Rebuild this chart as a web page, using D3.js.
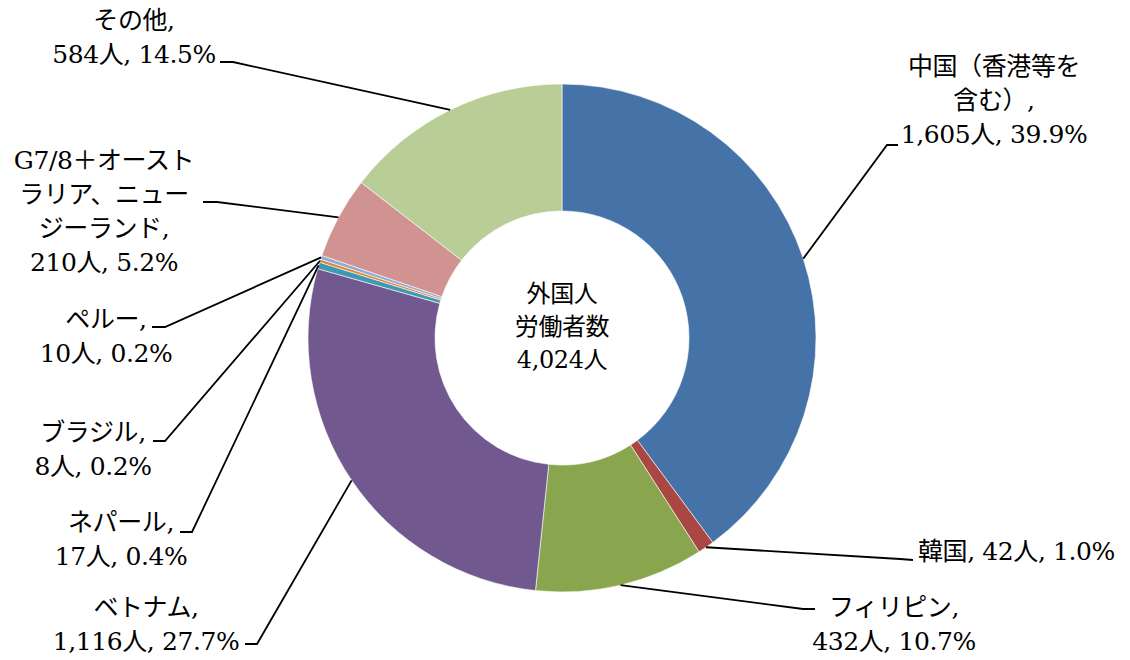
<!DOCTYPE html>
<html><head><meta charset="utf-8">
<script src="https://cdn.jsdelivr.net/npm/d3@7/dist/d3.min.js"></script>
<style>
html,body{margin:0;padding:0;background:#fff;}
text{font-family:"DejaVu Serif","Noto Sans CJK JP",serif;fill:#000;letter-spacing:-0.4px;}
</style></head>
<body><svg id="c" width="1130" height="660"></svg>
<script>
// ---- data ----
const categories = ["中国（香港等を含む）","韓国","フィリピン","ベトナム","ネパール","ブラジル","ペルー","G7/8＋オーストラリア、ニュージーランド","その他"];
const values = [1605, 42, 432, 1116, 17, 8, 10, 210, 584];
const colors = ["#4572A7","#AA4643","#89A54E","#71588F","#4198AF","#DB843D","#93A9CF","#D19392","#B9CD96"];
// wrapped name lines as in the picture (last line carries the comma)
const nameLines = [["中国（香港等を","含む）,"],null,["フィリピン,"],["ベトナム,"],["ネパール,"],["ブラジル,"],["ペルー,"],["G7/8＋オースト","ラリア、ニュー","ジーランド,"],["その他,"]];
const centerLines = ["外国人","労働者数"];
const unit = "人";

// ---- layout (label anchors & leader elbows) ----
const labelLayout = [
  {x:994, y:75,  anchor:"middle", elbow:[887,145], end:[898,145]},
  {x:918, y:560, anchor:"start",  elbow:[900,559], end:[913,560]},
  {x:894, y:616, anchor:"middle", elbow:[803,609], end:[815,609]},
  {x:146, y:616, anchor:"middle", elbow:[257,644], end:[245,644]},
  {x:121, y:531, anchor:"middle", elbow:[192,532], end:[180,532]},
  {x:93,  y:441, anchor:"middle", elbow:[165,441], end:[153,441]},
  {x:106, y:328, anchor:"middle", elbow:[165,327], end:[152,327]},
  {x:104, y:169, anchor:"middle", elbow:[217,202], end:[203,202]},
  {x:134, y:29,  anchor:"middle", elbow:[233,62],  end:[220,62]}
];
const lineH = 34;

const svg = d3.select("#c");
const cx = 562, cy = 338, R = 254, r = 127;
const total = d3.sum(values);
const fmt = d3.format(",");
const pct = v => (v/total*100).toFixed(1) + "%";

const data = categories.map((c,i)=>({name:c, value:values[i], color:colors[i], i}));
const pie = d3.pie().sort(null).value(d=>d.value).startAngle(0).endAngle(2*Math.PI);
const arcs = pie(data);
const arc = d3.arc().innerRadius(r).outerRadius(R);
const rim = d3.arc().innerRadius(R).outerRadius(R);

const g = svg.append("g").attr("transform",`translate(${cx},${cy})`);
g.selectAll("path.slice").data(arcs).join("path")
  .attr("class","slice")
  .attr("d",arc)
  .attr("fill",d=>d.data.color)
  .attr("stroke","#fff").attr("stroke-width",0.6);

// leader lines
svg.selectAll("polyline.leader").data(arcs).join("polyline")
  .attr("class","leader")
  .attr("fill","none").attr("stroke","#000").attr("stroke-width",1.8)
  .attr("points",d=>{
    const [px,py] = rim.centroid(d);
    const L = labelLayout[d.index];
    return [[cx+px,cy+py],L.elbow,L.end].map(p=>p.join(",")).join(" ");
  });

// labels
arcs.forEach(d=>{
  const L = labelLayout[d.index];
  const valStr = fmt(d.data.value) + unit + ", " + pct(d.data.value);
  let lines;
  if (nameLines[d.index]) lines = nameLines[d.index].concat([valStr]);
  else lines = [d.data.name + ", " + valStr];
  const t = svg.append("text").attr("text-anchor",L.anchor).attr("font-size",25);
  lines.forEach((s,k)=>t.append("tspan").attr("x",L.x).attr("y",L.y+k*lineH).text(s));
});

// center label
const ct = svg.append("text").attr("text-anchor","middle").attr("font-size",24);
centerLines.concat([fmt(total)+unit]).forEach((s,k)=>ct.append("tspan").attr("x",cx).attr("y",302+k*33).text(s));
</script></body></html>
